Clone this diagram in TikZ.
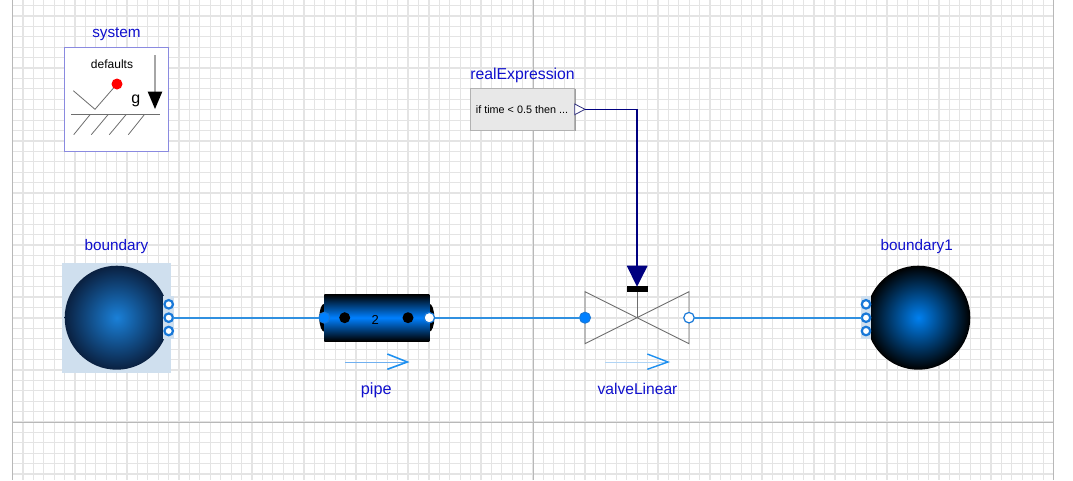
\documentclass[tikz,border=0pt]{standalone}
\usepackage{fontspec}
\setmainfont{Liberation Sans}
\usetikzlibrary{arrows.meta,positioning,shapes.geometric}
\definecolor{gridminor}{RGB}{228,228,228}
\definecolor{gridmajor}{RGB}{184,184,184}
\definecolor{namblue}{RGB}{16,16,205}
\definecolor{fluidblue}{RGB}{48,144,224}
\definecolor{portblue}{RGB}{24,120,216}
\definecolor{portfill}{RGB}{0,128,255}
\definecolor{selblue}{RGB}{207,223,238}
\definecolor{flowblue}{RGB}{30,144,240}
\definecolor{flowpale}{RGB}{176,212,245}
\definecolor{flowmid}{RGB}{112,176,240}
\definecolor{signavy}{RGB}{0,0,128}
\definecolor{iconline}{RGB}{110,110,110}
\definecolor{sysframe}{RGB}{138,138,224}
\tikzset{
  namelabel/.style={text=namblue, inner sep=0pt, font=\fontsize{#1}{#1}\selectfont},
  icontext/.style={text=black, inner sep=0pt, font=\fontsize{#1}{#1}\selectfont},
  portring/.style={circle, draw=portblue, line width=2.2pt, fill=white, minimum size=8.5pt, inner sep=0pt, outer sep=0pt},
  portsolid/.style={circle, draw=portblue, line width=1pt, fill=portfill, minimum size=11pt, inner sep=0pt, outer sep=0pt},
  portopen/.style={circle, draw=portblue, line width=1.2pt, fill=white, minimum size=10.5pt, inner sep=0pt, outer sep=0pt},
  fluidline/.style={fluidblue, line width=1.6pt},
  sigline/.style={signavy, line width=1.3pt},
  blackdot/.style={circle, fill=black, minimum size=11pt, inner sep=0pt}
}
\begin{document}
\begin{tikzpicture}[x=1pt,y=-1pt]
\useasboundingbox (0,0) rectangle (1073,480);
\fill[white] (0,0) rectangle (1073,480);
% Grid
\foreach \gx in {0,...,100} {
  \draw[gridminor, line width=1.2pt] ({12.5+\gx*10.41},0) -- ({12.5+\gx*10.41},480);
}
\foreach \gy in {-5,...,40} {
  \draw[gridminor, line width=1.2pt] (12.5,{422-\gy*10.41}) -- (1053.5,{422-\gy*10.41});
}
\draw[gridmajor, line width=1pt] (12.5,0) -- (12.5,480);
\draw[gridmajor, line width=1pt] (533,0) -- (533,480);
\draw[gridmajor, line width=1pt] (1053.5,0) -- (1053.5,480);
\draw[gridmajor, line width=1pt] (12.5,422) -- (1053.5,422);
% System
\draw[sysframe, fill=white, line width=1pt] (64.3,47) rectangle (168.3,151.3);
\node[namelabel=15.3] (systemLabel) at (116.5,34) {system};
\node[icontext=12] (defaultsText) at (112,64.5) {defaults};
\node[icontext=16] (gText) at (135.7,100.5) {g};
\draw[iconline, line width=0.8pt] (73.3,90.7) -- (95,109.3) -- (117,84);
\fill[red] (117,84) circle (5.5);
\draw[iconline, line width=1pt] (71.3,114.7) -- (159.7,114.7);
\foreach \xa/\xb in {90/73.7, 108/91.3, 126/109.3, 144.3/128.3} {
  \draw[iconline, line width=0.8pt] (\xa,114.7) -- (\xb,134.7);
}
\draw[gray!70, line width=1.5pt] (155,55) -- (155,92);
\fill[black] (147.7,91.7) -- (162.3,91.7) -- (155,109) -- cycle;
% Boundary
\fill[selblue] (62,263) rectangle (171.3,372.7);
\node[namelabel=15.3] (boundaryLabel) at (116.5,247) {boundary};
\node[circle, minimum size=104pt, inner sep=0pt, inner color={rgb,255:red,26;green,128;blue,216}, outer color={rgb,255:red,10;green,32;blue,64}] (boundary) at (116.7,317.7) {};
\fill[selblue] (163.3,296) rectangle (174,338.7);
\foreach \i/\yy in {1/304.3, 2/317.7, 3/331} {
  \node[portring] (boundaryPort\i) at (168.7,\yy) {};
}
% Boundary1
\node[namelabel=15.3] (boundaryOneLabel) at (916.7,247) {boundary1};
\node[circle, minimum size=104pt, inner sep=0pt, inner color={rgb,255:red,0;green,128;blue,240}, outer color=black] (boundaryOne) at (918.3,317.7) {};
\fill[selblue] (860.7,296) rectangle (871.3,338.7);
\foreach \i/\yy in {1/304.3, 2/317.7, 3/331} {
  \node[portring] (boundaryOnePort\i) at (866,\yy) {};
}
% Pipe
\fill[black] (324.3,317.7) ellipse (5 and 14);
\fill[black] (429.3,317.7) ellipse (5 and 14);
\shade[top color=black, bottom color=black, middle color=portfill] (324.3,294.3) rectangle (429.3,341);
\node[portsolid] (pipeIn) at (324.3,317.7) {};
\node[portopen] (pipeOut) at (429.3,317.7) {};
\node[blackdot] (pipeDotA) at (344.7,317.7) {};
\node[blackdot] (pipeDotB) at (408,317.7) {};
\node[icontext=13] (pipeNumber) at (375.3,319.5) {2};
\draw[flowmid, line width=1pt] (345,362) -- (405,362);
\draw[flowblue, line width=1.6pt] (387.3,354) -- (407.3,362) -- (387.3,369.3);
\node[namelabel=16.2] (pipeLabel) at (376.3,390.5) {pipe};
% Valve
\draw[iconline, line width=0.9pt] (585,291.7) -- (689,343.7) -- (689,291.7) -- (585,343.7) -- cycle;
\draw[iconline, line width=0.9pt] (637,317.7) -- (637,290);
\fill[black] (626.7,286.3) rectangle (647.7,292);
\fill[signavy] (626.7,265.7) -- (647.7,265.7) -- (637,286.7) -- cycle;
\coordinate (valveCtrl) at (637,265.7);
\node[portsolid] (valveIn) at (585,317.7) {};
\node[portopen] (valveOut) at (689,317.7) {};
\draw[flowpale, line width=1pt] (605,362) -- (666,362);
\draw[flowblue, line width=1.4pt] (647.3,354) -- (668,362) -- (647.3,369.3);
\node[namelabel=15.6] (valveLabel) at (637.5,388.5) {valveLinear};
% Real expression
\fill[gray!75] (471,89.3) rectangle (575.7,131.3);
\draw[gray!60, fill=gray!18, line width=0.8pt] (470,88.3) rectangle (574.7,130.3);
\node[icontext=10.8] (exprText) at (522,110) {if time < 0.5 then ...};
\node[namelabel=15.8] (exprLabel) at (522.5,75) {realExpression};
\draw[signavy!60!gray, fill=white, line width=0.8pt] (574.7,104) -- (585,109.3) -- (574.7,114.7) -- cycle;
\coordinate (exprOut) at (585,109.3);
% Connections
\draw[fluidline] (boundaryPort2) -- (pipeIn);
\draw[fluidline] (pipeOut) -- (valveIn);
\draw[fluidline] (valveOut) -- (boundaryOnePort2);
\draw[sigline] (exprOut) -| (valveCtrl);
\end{tikzpicture}
\end{document}
